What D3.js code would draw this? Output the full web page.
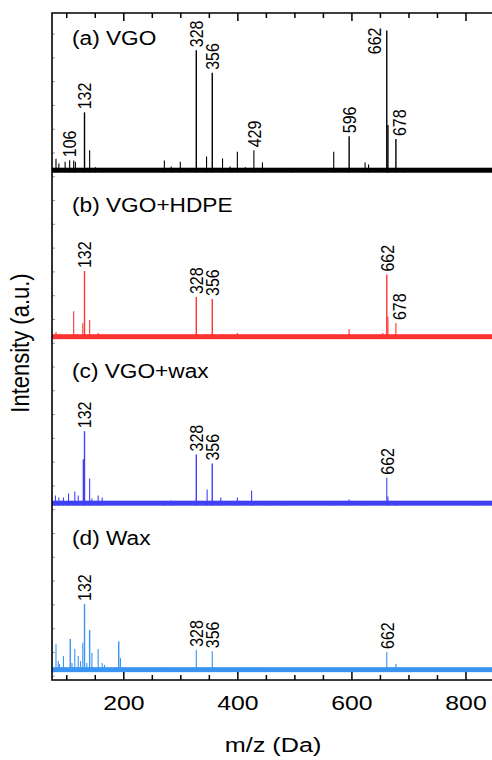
<!DOCTYPE html>
<html>
<head>
<meta charset="utf-8">
<script src="https://cdn.jsdelivr.net/npm/d3@7"></script>
<style>
  html, body { margin: 0; padding: 0; background: #fff; }
  svg { display: block; font-family: "Liberation Sans", Arial, sans-serif; }
</style>
</head>
<body>
<svg id="chart" width="492" height="760"></svg>
<script>
(function () {
// ---------------- DATA ----------------
const xDomain = [75, 850];
const xMajorTicks = [200, 400, 600, 800];
const xMinorTicks = [100, 150, 250, 300, 350, 450, 500, 550, 650, 700, 750, 850];
const xLabel = "m/z (Da)";
const yLabel = "Intensity (a.u.)";

const panelNames = ["(a) VGO", "(b) VGO+HDPE", "(c) VGO+wax", "(d) Wax"];
const panelOffsets = [424, 284, 144, 4];
const panelColors = ["#000000", "#ff3333", "#4040f5", "#3a95f2"];
const panelNoise = [2.7, 2.7, 2.7, 2.7];

// [m/z, relative intensity (%)]
const peaksA = [[82,9],[87,5.7],[98,7],[106,8],[113,7.8],[116,7],[132,42],[141,15],[151,3],[163,2],
  [272,7.8],[284,3.5],[300,7],[328,86],[346,10.6],[356,70],[374,9.2],[387,3.5],[400,14],[414,3],
  [429,15],[444,6.4],[495,2],[569,14],[596,25],[624,6.4],[630,5],[662,100],[664,33],[678,23],[691,2]];
const peaksB = [[82,4.3],[87,2.8],[101,2],[113,19],[119,2.8],[129,10.6],[132,47.5],[141,12.8],[156,3.5],[163,1.5],
  [328,29],[346,2.8],[356,27.7],[374,2.8],[400,3.5],[414,2],[443,2],[569,2.8],[596,6.4],[624,2],
  [655,3.5],[662,45],[664,15],[678,10.6],[691,1.5]];
const peaksC = [[81,6.4],[87,5],[95,5],[104,7.8],[115,9.2],[121,6.4],[130,32],[132,52],[141,18.4],[145,4.3],
  [156,6.4],[163,5],[271,2],[284,2.8],[328,35.5],[347,10.6],[356,29],[371,5],[400,5],[425,10],
  [456,2],[484,1.5],[569,2],[596,3.5],[624,1.5],[662,19],[664,5.7],[678,2],[816,1]];
const peaksD = [[82,19],[86,7],[88,5],[95,10.6],[101,2],[107,22.7],[110,5.7],[115,15.6],[121,10.6],[125,7],
  [129,20],[132,47.5],[136,5.7],[141,29],[145,12.8],[156,15.6],[163,5.7],[167,4.3],[192,21],[195,9.2],
  [244,1.5],[271,2.8],[284,2],[300,2],[328,15],[348,2.8],[356,14],[374,1.5],[415,2.8],[425,2.8],
  [443,2.8],[484,2],[596,1.5],[662,13.5],[678,5]];
const panelPeaks = [peaksA, peaksB, peaksC, peaksD];

const labelsA = [106, 132, 328, 356, 429, 596, 662, 678];
const labelsB = [132, 328, 356, 662, 678];
const labelsC = [132, 328, 356, 662];
const labelsD = [132, 328, 356, 662];
const panelLabels = [labelsA, labelsB, labelsC, labelsD];

// ---------------- LAYOUT ----------------
const SX = 1.18; // horizontal glyph stretch
const mLeft = 52, mRight = 494, mTop = 13, mBottom = 680;
const svg = d3.select("#chart");

const x = d3.scaleLinear().domain(xDomain).range([mLeft, mRight]);
const stack = d3.scaleLinear().domain([-3.6, 557.3]).range([mBottom, mTop]);
const h = d3.scaleLinear().domain([0, 100]).range([0, 141]);

// panels
panelNames.forEach((name, i) => {
  const g = svg.append("g");
  const base = stack(panelOffsets[i]);
  const col = panelColors[i];
  g.append("rect")
    .attr("x", x(xDomain[0])).attr("width", x(xDomain[1]) - x(xDomain[0]))
    .attr("y", base - h(panelNoise[i])).attr("height", h(panelNoise[i]) + 1.2)
    .attr("fill", col);
  g.selectAll("line.pk").data(panelPeaks[i]).join("line")
    .attr("class", "pk")
    .attr("x1", d => x(d[0])).attr("x2", d => x(d[0]))
    .attr("y1", base + 1).attr("y2", d => base - h(d[1]))
    .attr("stroke", col).attr("stroke-width", d => d[1] > 20 ? 1.4 : 1.1);
  const fs = 16;
  panelLabels[i].forEach(mz => {
    const pk = panelPeaks[i].find(d => d[0] === mz);
    const ptop = base - h(pk[1]);
    let tx, ty, anchor;
    if (i === 0 && mz === 662) {
      tx = x(mz) - 6; ty = ptop - 3; anchor = "end";
    } else {
      const dx = mz === 678 ? 3 : 0;
      tx = x(mz) + dx + 0.358 * fs * SX; ty = ptop - 3; anchor = "start";
    }
    g.append("text")
      .attr("transform", `translate(${tx},${ty}) scale(${SX},1) rotate(-90)`)
      .attr("text-anchor", anchor)
      .attr("font-size", fs)
      .attr("fill", "#000")
      .text(mz);
  });
  g.append("text")
    .attr("transform", `translate(72,${stack(panelOffsets[i] + 106)}) scale(1.08,1)`)
    .attr("font-size", 21)
    .attr("fill", "#000")
    .text(name);
});

// axes
const axB = svg.append("g").attr("transform", `translate(0,${mBottom})`)
  .call(d3.axisBottom(x).tickValues(xMajorTicks).tickSizeInner(-8).tickSizeOuter(0).tickPadding(15).tickFormat(d3.format("d")));
axB.select(".domain").remove();
axB.selectAll("line").attr("stroke", "#000").attr("stroke-width", 1.5);
axB.selectAll(".tick text").attr("font-size", 21).attr("fill", "#000")
  .attr("font-family", "Liberation Sans, Arial, sans-serif")
  .attr("transform", `scale(${SX},1)`);

const axBm = svg.append("g").attr("transform", `translate(0,${mBottom})`)
  .call(d3.axisBottom(x).tickValues(xMinorTicks).tickSizeInner(-5).tickSizeOuter(0).tickFormat(""));
axBm.select(".domain").remove();
axBm.selectAll("line").attr("stroke", "#000").attr("stroke-width", 1.5);

const axT = svg.append("g").attr("transform", `translate(0,${mTop})`)
  .call(d3.axisTop(x).tickValues(xMajorTicks).tickSizeInner(-8).tickSizeOuter(0).tickFormat(""));
axT.select(".domain").remove();
axT.selectAll("line").attr("stroke", "#000").attr("stroke-width", 1.5);
const axTm = svg.append("g").attr("transform", `translate(0,${mTop})`)
  .call(d3.axisTop(x).tickValues(xMinorTicks).tickSizeInner(-5).tickSizeOuter(0).tickFormat(""));
axTm.select(".domain").remove();
axTm.selectAll("line").attr("stroke", "#000").attr("stroke-width", 1.5);

const axL = svg.append("g").attr("transform", `translate(${mLeft},0)`)
  .call(d3.axisLeft(stack).tickValues(d3.range(0, 541, 20)).tickSizeInner(-3).tickSizeOuter(0).tickFormat(""));
axL.select(".domain").remove();
axL.selectAll("line").attr("stroke", "#999").attr("stroke-width", 1);

svg.append("path")
  .attr("d", `M${mRight},${mTop}H${mLeft}V${mBottom}H${mRight}V${mTop}`)
  .attr("fill", "none").attr("stroke", "#000").attr("stroke-width", 1.6);

svg.append("text")
  .attr("transform", `translate(273,752) scale(1.2,1)`)
  .attr("text-anchor", "middle").attr("font-size", 21).attr("fill", "#000")
  .text(xLabel);
svg.append("text")
  .attr("transform", `translate(29,343) scale(${SX},1) rotate(-90)`)
  .attr("text-anchor", "middle").attr("font-size", 22).attr("fill", "#000")
  .text(yLabel);
})();
</script>
</body>
</html>
